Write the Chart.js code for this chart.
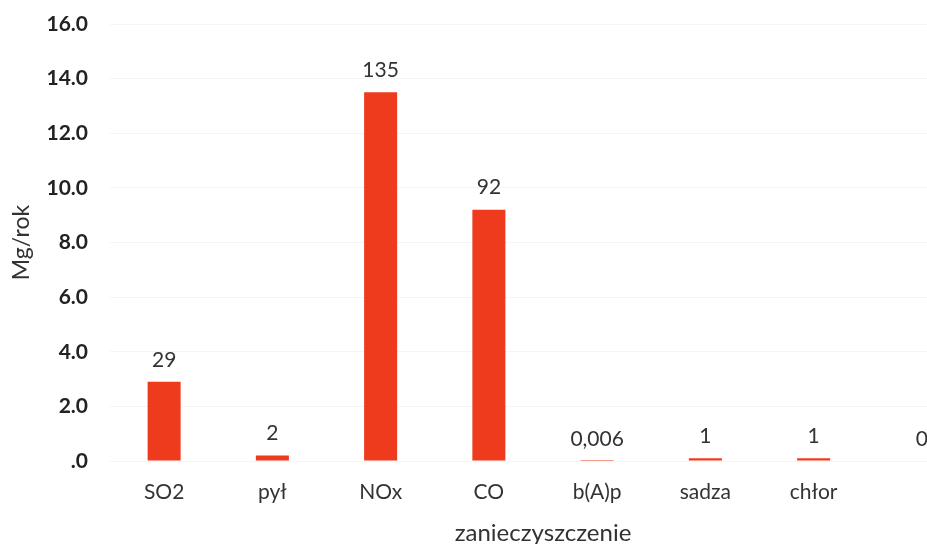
<!DOCTYPE html>
<html>
<head>
<meta charset="utf-8">
<script src="https://cdn.jsdelivr.net/npm/chart.js@4/dist/chart.umd.min.js"></script>
<style>
  html, body { margin: 0; padding: 0; background: #fff; overflow: hidden; }
  #wrap { width: 990px; height: 544px; }
</style>
</head>
<body>
<div id="wrap"><canvas id="barChart" width="990" height="544"></canvas></div>
<script>
// Emisje zanieczyszczeń (Mg/rok)
const categories = ['SO2', 'pył', 'NOx', 'CO', 'b(A)p', 'sadza', 'chłor', ''];
const emissions = [29, 2, 135, 92, 0.006, 1, 1, 0];
const yTicks = [0, 20, 40, 60, 80, 100, 120, 140, 160];

const FONT = 'Lato, "Open Sans", sans-serif';
const BAR_COLOR = '#ef3b1d';

// value labels above each bar, decimal comma
const valueLabels = {
  id: 'valueLabels',
  afterDatasetsDraw(chart) {
    const ctx = chart.ctx;
    const meta = chart.getDatasetMeta(0);
    ctx.save();
    ctx.font = '21px ' + FONT;
    ctx.fillStyle = '#333';
    ctx.textAlign = 'center';
    ctx.textBaseline = 'middle';
    meta.data.forEach((bar, i) => {
      const txt = String(emissions[i]).replace('.', ',');
      ctx.fillText(txt, bar.x, bar.y - 22);
    });
    ctx.restore();
  }
};

const ctx = document.getElementById('barChart').getContext('2d');
const chart = new Chart(ctx, {
  type: 'bar',
  data: {
    labels: categories,
    datasets: [{
      data: emissions,
      backgroundColor: BAR_COLOR,
      borderWidth: 0,
      barPercentage: 0.61,
      categoryPercentage: 0.5
    }]
  },
  options: {
    responsive: false,
    animation: false,
    layout: { padding: { top: 24, right: 14, left: 0, bottom: 0 } },
    plugins: { legend: { display: false }, tooltip: { enabled: false } },
    scales: {
      x: {
        afterFit: (axis) => { axis.height = 83; },
        grid: { display: false },
        border: { display: false },
        ticks: { color: '#333', font: { family: FONT, size: 21 }, padding: 11 },
        title: { display: true, text: 'zanieczyszczenie', color: '#333', font: { family: FONT, size: 24 }, padding: { top: 0, bottom: -4 } }
      },
      y: {
        min: 0,
        max: 160,
        afterFit: (axis) => { axis.width = 110; axis.paddingTop = 0; },
        afterBuildTicks: (axis) => { axis.ticks = yTicks.map(v => ({ value: v })); },
        grid: { color: '#f5f5f5', drawTicks: false },
        border: { display: false },
        ticks: {
          color: '#222',
          padding: 22,
          font: { family: FONT, size: 21, weight: 'bold' },
          callback: (v) => { const s = (v / 10).toFixed(1); return s.startsWith('0') ? s.slice(1) : s; }
        },
        title: { display: true, text: 'Mg/rok', color: '#333', font: { family: FONT, size: 23 }, padding: { top: 8 } }
      }
    }
  },
  plugins: [valueLabels]
});
</script>
</body>
</html>
